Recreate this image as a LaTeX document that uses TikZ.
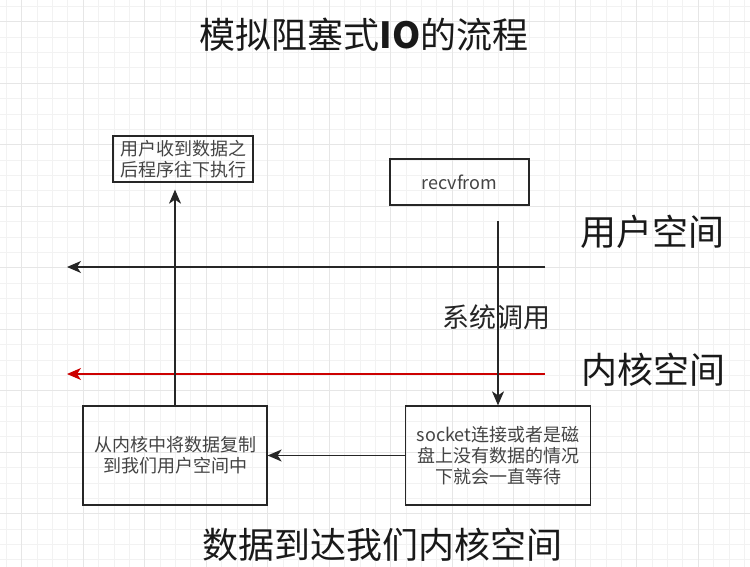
\documentclass[tikz,border=0pt]{standalone}
\usepackage{fontspec}
\setmainfont{Noto Sans CJK SC}
\usetikzlibrary{arrows.meta}
\definecolor{gridmin}{HTML}{F2F2F2}
\definecolor{gridmaj}{HTML}{E6E6E6}
\definecolor{boxtext}{HTML}{444444}
\definecolor{kred}{HTML}{CC0000}
\tikzset{
  box/.style={draw=black!85, line width=1.3pt, align=center, text=boxtext,
    font=\fontsize{18}{21}\selectfont, inner sep=0pt},
  arr/.style={draw=black!85, line width=1.3pt,
    -{Stealth[length=14pt,width=12pt,inset=4pt]}},
  bigtext/.style={font=\fontsize{36}{40}\selectfont, text=black!90},
  gridminor/.style={draw=gridmin, line width=0.8pt},
  gridmajor/.style={draw=gridmaj, line width=1pt}
}
\begin{document}
\begin{tikzpicture}[x=1pt,y=-1pt]
\useasboundingbox (0,0) rectangle (750,567);
\fill[white] (0,0) rectangle (750,567);
% grid
\foreach \i in {0,...,49} {
  \draw[gridminor] ({6.3+15.375*\i},0) -- ({6.3+15.375*\i},567);
  \draw[gridminor] (0,{6.3+15.375*\i}) -- (750,{6.3+15.375*\i});
}
\foreach \i in {0,...,12} {
  \draw[gridmajor] ({21.7+61.5*\i},0) -- ({21.7+61.5*\i},567);
  \draw[gridmajor] (0,{21.7+61.5*\i}) -- (750,{21.7+61.5*\i});
}
% title
\node[bigtext] (title) at (364,35) {模拟阻塞式\textbf{IO}的流程};
% boxes
\node[box, minimum width=140pt, minimum height=46pt] (done) at (183,159) {用户收到数据之\\后程序往下执行};
\node[box, minimum width=139pt, minimum height=46pt] (recv) at (459.5,182) {recvfrom};
\node[box, minimum width=184pt, minimum height=99pt] (copy) at (175,455.5) {从内核中将数据复制\\到我们用户空间中};
\node[box, minimum width=185pt, minimum height=99pt] (wait) at (498,455.5) {socket连接或者是磁\\盘上没有数据的情况\\下就会一直等待};
% labels
\node[bigtext] (user) at (652,232) {用户空间};
\node[bigtext] (kernel) at (653,370) {内核空间};
\node[font=\fontsize{27}{30}\selectfont, text=black!85] (sys) at (496,317) {系统调用};
\node[bigtext] (arrive) at (382,545) {数据到达我们内核空间};
% coordinates
\coordinate (sysstart) at (498,221);
\coordinate (ustart) at (545,267);
\coordinate (uend) at (67,267);
\coordinate (kstart) at (545,374);
\coordinate (kend) at (67,374);
% connectors
\draw[arr] (ustart) -- (uend);
\draw[arr, draw=kred, line width=1.2pt] (kstart) -- (kend);
\draw[arr] (sysstart) -- (wait.north);
\draw[arr] (wait.west) -- (copy.east);
\draw[arr, shorten >=7pt] (copy.north) -- (copy.north |- done.south);
\end{tikzpicture}
\end{document}
